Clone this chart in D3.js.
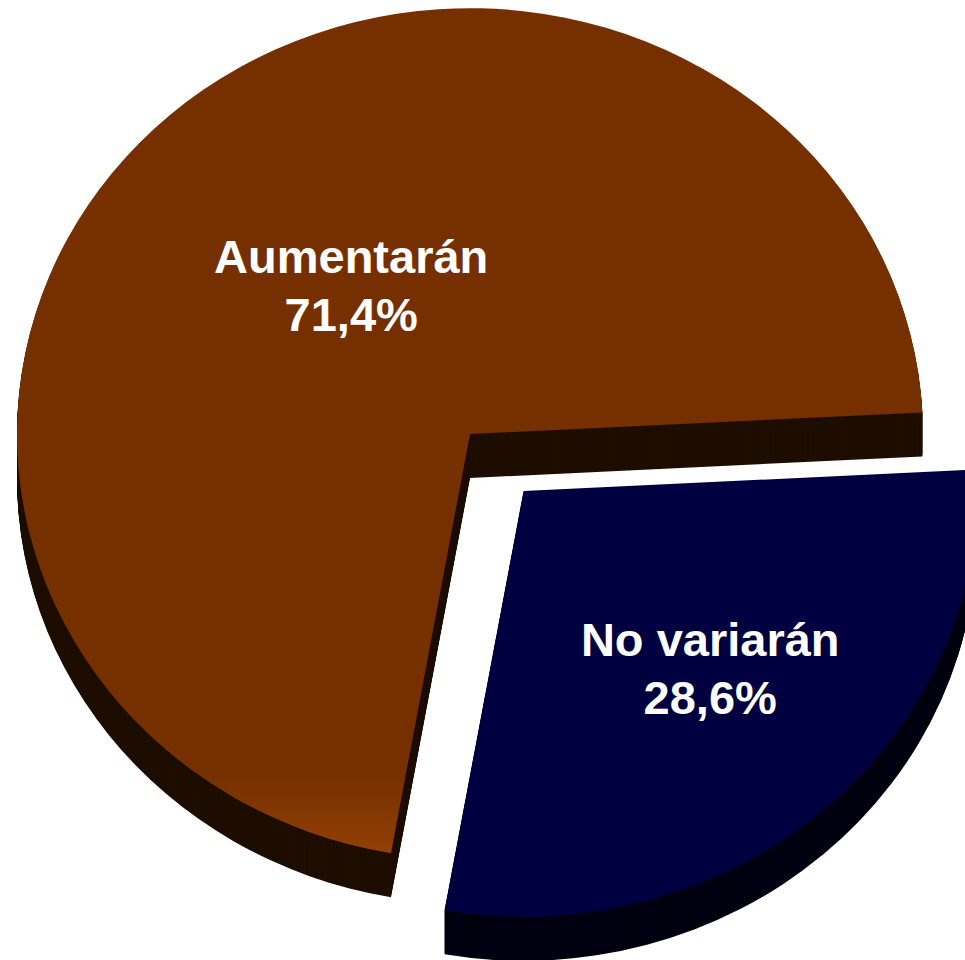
<!DOCTYPE html>
<html>
<head>
<meta charset="utf-8">
<script src="https://cdn.jsdelivr.net/npm/d3@7"></script>
<style>
  html, body { margin: 0; padding: 0; background: #fff; }
  svg { display: block; }
</style>
</head>
<body>
<div id="chart-area"></div>
<script>
// data
var categories = ["Aumentarán", "No variarán"];
var values = [71.4, 28.6];
var valueLabels = ["71,4%", "28,6%"];
var topColors = ["#763000", "#000040"];
var sideColors = ["#1e0e00", "#000010"];

var width = 965, height = 960;
var cx = 470, cy = 434;
var radius = 453;
var tilt = 0.94;          // vertical squash of the pie
var depth = 44;           // thickness in screen px
var rotation = 190.05;    // first slice angle, degrees
var explode = [0, 81];
var labelPos = [0.413, 0.606];

var svg = d3.select("#chart-area").append("svg")
    .attr("width", width)
    .attr("height", height);

var defs = svg.append("defs");
var grad = defs.append("linearGradient")
    .attr("id", "brownGrad")
    .attr("x1", 0).attr("y1", 0).attr("x2", 0).attr("y2", 1);
grad.append("stop").attr("offset", "0.91").attr("stop-color", topColors[0]);
grad.append("stop").attr("offset", "1").attr("stop-color", "#934004");

var pie = d3.pie()
    .sort(null)
    .value((d) => { return d; })
    .startAngle(rotation * Math.PI / 180)
    .endAngle(rotation * Math.PI / 180 + 2 * Math.PI);

var arcs = pie(values);

var arc = d3.arc()
    .innerRadius(0)
    .outerRadius(radius);

var g = svg.append("g")
    .attr("transform", "translate(" + cx + ", " + cy + ") scale(1, " + tilt + ")");

arcs.forEach((d, i) => {
    var mid = (d.startAngle + d.endAngle) / 2;
    var ox = explode[i] * Math.sin(mid);
    var oy = -explode[i] * Math.cos(mid);
    var slice = g.append("g")
        .attr("transform", "translate(" + ox + ", " + oy + ")");

    // side: stacked copies swept downwards
    var steps = d3.range(depth, 0, -1);
    slice.selectAll("path.side")
        .data(steps)
        .enter()
        .append("path")
            .attr("class", "side")
            .attr("d", arc(d))
            .attr("transform", (s) => { return "translate(0, " + (s / tilt) + ")"; })
            .attr("fill", sideColors[i]);

    slice.append("path")
        .attr("class", "top")
        .attr("d", arc(d))
        .attr("fill", i === 0 ? "url(#brownGrad)" : topColors[i]);
});

// labels
var labels = svg.append("g");
arcs.forEach((d, i) => {
    var mid = (d.startAngle + d.endAngle) / 2;
    var r = explode[i] + radius * labelPos[i];
    var lx = cx + r * Math.sin(mid) + 5;
    var ly = cy - r * Math.cos(mid) * tilt;
    var t = labels.append("text")
        .attr("text-anchor", "middle")
        .attr("font-family", "Liberation Sans, Arial, sans-serif")
        .attr("font-weight", "bold")
        .attr("font-size", "47px")
        .attr("fill", "#ffffff");
    t.append("tspan").attr("x", lx).attr("y", ly - 29).text(categories[i]);
    t.append("tspan").attr("x", lx).attr("y", ly + 29).text(valueLabels[i]);
});
</script>
</body>
</html>
